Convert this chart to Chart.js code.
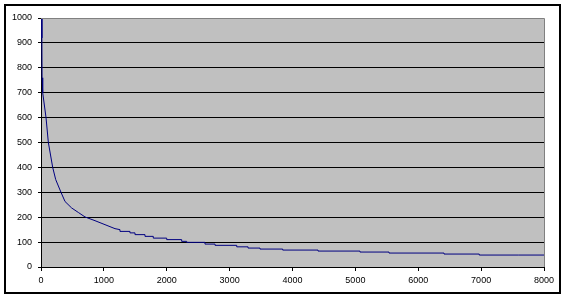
<!DOCTYPE html>
<html>
<head>
<meta charset="utf-8">
<script src="https://cdn.jsdelivr.net/npm/chart.js@4.4.0/dist/chart.umd.js"></script>
<style>
  html, body { margin: 0; padding: 0; background: #fff; }
  #wrap { width: 566px; height: 298px; }
</style>
</head>
<body>
<div id="wrap"><canvas id="chart" width="566" height="298"></canvas></div>
<script>
// upper part of the curve
const headX = [12, 14, 17, 27, 80, 117, 186, 234, 318, 382, 488, 594, 700, 859, 1018, 1177, 1256];
const headY = [1000, 920, 760, 700, 600, 500, 400, 351, 300, 263, 237, 219, 201, 186, 170, 154, 150];

// flat, stair-like tail
const tailX = [1256, 1415, 1495, 1654, 1786, 1999, 2237, 2317, 2608, 2768, 3113, 3293, 3483, 3844, 4406, 5073, 5535, 6410, 6970, 7590, 8000];
const tailY = [150, 143, 137, 130, 123, 116, 110, 103, 99, 92, 87, 81, 76, 72, 68, 64, 60, 56, 52, 48, 48];

const xTicks = [0, 1000, 2000, 3000, 4000, 5000, 6000, 7000, 8000];
const yTicks = [0, 100, 200, 300, 400, 500, 600, 700, 800, 900, 1000];

const toPoints = (xs, ys) => xs.map((x, i) => ({ x: x, y: ys[i] }));

// background, frame and gray plot area
const frame = {
    id: 'frame',
    beforeDraw(chart) {
        const { ctx, chartArea: a } = chart;
        ctx.save();
        ctx.fillStyle = '#fff';
        ctx.fillRect(0, 0, chart.width, chart.height);
        ctx.strokeStyle = '#000';
        ctx.lineWidth = 2;
        ctx.strokeRect(5, 5, 555, 288);
        ctx.fillStyle = '#c0c0c0';
        ctx.fillRect(a.left, a.top, a.right - a.left, a.bottom - a.top);
        ctx.restore();
    },
    afterDraw(chart) {
        const { ctx, chartArea: a } = chart;
        ctx.save();
        ctx.strokeStyle = '#808080';
        ctx.lineWidth = 1;
        ctx.beginPath();
        ctx.moveTo(a.left, a.top + 0.5);
        ctx.lineTo(a.right + 0.5, a.top + 0.5);
        ctx.lineTo(a.right + 0.5, a.bottom);
        ctx.stroke();
        ctx.restore();
    }
};

const tickFont = { family: 'Liberation Sans', size: 9 };
const plain = v => String(v);

new Chart(document.getElementById('chart').getContext('2d'), {
    type: 'scatter',
    data: {
        datasets: [
            {
                data: toPoints(headX, headY),
                showLine: true,
                borderColor: '#000080',
                borderWidth: 1,
                pointRadius: 0,
                tension: 0
            },
            {
                data: toPoints(tailX, tailY),
                showLine: true,
                stepped: 'after',
                borderColor: '#000080',
                borderWidth: 1,
                pointRadius: 0
            }
        ]
    },
    options: {
        responsive: false,
        animation: false,
        layout: { padding: { left: 0, right: 22, top: 18, bottom: 0 } },
        plugins: {
            legend: { display: false },
            tooltip: { enabled: false }
        },
        scales: {
            x: {
                type: 'linear',
                min: xTicks[0],
                max: xTicks[xTicks.length - 1],
                afterBuildTicks: s => { s.ticks = xTicks.map(v => ({ value: v })); },
                afterFit: s => { s.height = 31; },
                grid: { drawOnChartArea: false, drawTicks: true, tickLength: 4, color: '#000' },
                border: { color: '#000', width: 1 },
                ticks: { font: tickFont, color: '#000', padding: 4, maxRotation: 0, callback: plain }
            },
            y: {
                type: 'linear',
                min: yTicks[0],
                max: yTicks[yTicks.length - 1],
                afterBuildTicks: s => { s.ticks = yTicks.map(v => ({ value: v })); },
                afterFit: s => { s.width = 41; },
                grid: {
                    color: c => (c.tick && c.tick.value === 1000 ? 'rgba(0,0,0,0)' : '#000'),
                    tickColor: '#000',
                    drawTicks: true,
                    tickLength: 3
                },
                border: { color: '#000', width: 1 },
                ticks: { font: tickFont, color: '#000', padding: 6, callback: plain }
            }
        }
    },
    plugins: [frame]
});
</script>
</body>
</html>
